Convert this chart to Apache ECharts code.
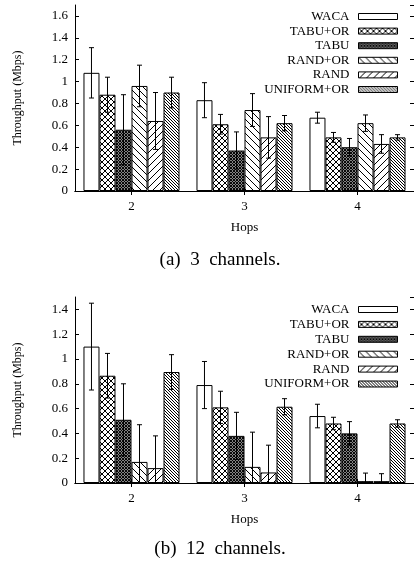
<!DOCTYPE html>
<html>
<head>
<meta charset="utf-8">
<script src="https://cdn.jsdelivr.net/npm/echarts@6.0.0/dist/echarts.min.js"></script>
<style>
html,body{margin:0;padding:0;background:#fff;}
#c{width:414px;height:565px;}
</style>
</head>
<body>
<div id="c"></div>
<script>
// ---- data ----
const hops = ['2', '3', '4'];
const methods = ['WACA', 'TABU+OR', 'TABU', 'RAND+OR', 'RAND', 'UNIFORM+OR'];
const yTicks3 = [0, 0.2, 0.4, 0.6, 0.8, 1, 1.2, 1.4, 1.6];
const yTicks12 = [0, 0.2, 0.4, 0.6, 0.8, 1, 1.2, 1.4];

// (a) 3 channels
const waca3 = [1.08, 0.83, 0.67];
const tabuOr3 = [0.88, 0.61, 0.49];
const tabu3 = [0.56, 0.37, 0.40];
const randOr3 = [0.96, 0.74, 0.62];
const rand3 = [0.64, 0.49, 0.43];
const uniformOr3 = [0.90, 0.62, 0.49];
const waca3Err = [0.23, 0.16, 0.05];
const tabuOr3Err = [0.16, 0.09, 0.045];
const tabu3Err = [0.32, 0.17, 0.08];
const randOr3Err = [0.19, 0.15, 0.075];
const rand3Err = [0.26, 0.19, 0.085];
const uniformOr3Err = [0.14, 0.07, 0.025];

// (b) 12 channels
const waca12 = [1.10, 0.79, 0.54];
const tabuOr12 = [0.865, 0.61, 0.48];
const tabu12 = [0.51, 0.38, 0.40];
const randOr12 = [0.17, 0.13, 0.015];
const rand12 = [0.12, 0.085, 0.015];
const uniformOr12 = [0.895, 0.615, 0.48];
const waca12Err = [0.35, 0.19, 0.095];
const tabuOr12Err = [0.18, 0.13, 0.05];
const tabu12Err = [0.29, 0.19, 0.095];
const randOr12Err = [0.30, 0.28, 0.065];
const rand12Err = [0.26, 0.22, 0.06];
const uniformOr12Err = [0.14, 0.065, 0.03];

// ---- patterns ----
function makePattern(kind) {
  const s = {cross: 6, dense: 3, back: 7, fwd: 7, backDense: 3}[kind] || 4;
  const c = document.createElement('canvas');
  c.width = s; c.height = s;
  const g = c.getContext('2d');
  g.fillStyle = '#fff';
  g.fillRect(0, 0, s, s);
  g.strokeStyle = '#000';
  g.lineWidth = kind === 'dense' ? 1.1 : 1;
  function back() {
    for (let k = -1; k <= 1; k++) { g.beginPath(); g.moveTo(k * s, 0); g.lineTo(k * s + s, s); g.stroke(); }
  }
  function fwd() {
    for (let k = -1; k <= 1; k++) { g.beginPath(); g.moveTo(k * s, s); g.lineTo(k * s + s, 0); g.stroke(); }
  }
  if (kind === 'cross' || kind === 'dense') { back(); fwd(); }
  else if (kind === 'back' || kind === 'backDense') back();
  else if (kind === 'fwd') fwd();
  return {image: c, repeat: 'repeat'};
}
const fills = [
  '#ffffff',
  makePattern('cross'),
  makePattern('dense'),
  makePattern('back'),
  makePattern('fwd'),
  makePattern('backDense')
];

const serif = 'Liberation Serif';
const vals3 = [waca3, tabuOr3, tabu3, randOr3, rand3, uniformOr3];
const errs3 = [waca3Err, tabuOr3Err, tabu3Err, randOr3Err, rand3Err, uniformOr3Err];
const vals12 = [waca12, tabuOr12, tabu12, randOr12, rand12, uniformOr12];
const errs12 = [waca12Err, tabuOr12Err, tabu12Err, randOr12Err, rand12Err, uniformOr12Err];

const GAP = 0.15;
function errData(vals, errs) {
  const out = [];
  vals.forEach((arr, s) => arr.forEach((v, c) => out.push([c, v, errs[s][c], s])));
  return out;
}
function renderErr(params, api) {
  const c = api.value(0), v = api.value(1), e = api.value(2), s = api.value(3);
  const band = api.size([1, 0])[0];
  const bw = band * (1 - GAP) / 6;
  const cx = api.coord([c, v])[0] + (s - 2.5) * bw;
  const hi = v + e, lo = v - e;
  const yHi = api.coord([c, hi])[1];
  const yLo = api.coord([c, Math.max(0, lo)])[1];
  const cap = 2.5;
  const st = {stroke: '#000', lineWidth: 1};
  const children = [
    {type: 'line', shape: {x1: cx, y1: yHi, x2: cx, y2: yLo}, style: st},
    {type: 'line', shape: {x1: cx - cap, y1: yHi, x2: cx + cap, y2: yHi}, style: st}
  ];
  if (lo > 0) children.push({type: 'line', shape: {x1: cx - cap, y1: yLo, x2: cx + cap, y2: yLo}, style: st});
  return {type: 'group', children: children};
}

const grids = [
  {left: 75, top: 5, width: 340, height: 186},
  {left: 75, top: 297, width: 340, height: 186}
];
const xAxes = [], yAxes = [];
[0, 1].forEach(gi => {
  xAxes.push({
    type: 'category', gridIndex: gi, data: hops, position: 'bottom',
    axisLine: {show: true, lineStyle: {color: '#000', width: 1}},
    axisTick: {show: true, inside: true, alignWithLabel: true, length: 4, lineStyle: {color: '#000'}},
    axisLabel: {color: '#000', fontFamily: serif, fontSize: 13, margin: 9},
    name: 'Hops', nameLocation: 'middle', nameGap: 30,
    nameTextStyle: {color: '#000', fontFamily: serif, fontSize: 13}
  });
  xAxes.push({
    type: 'category', gridIndex: gi, data: hops, position: 'top',
    axisLine: {show: true, lineStyle: {color: '#000', width: 1}},
    axisTick: {show: true, inside: true, alignWithLabel: true, length: 4, lineStyle: {color: '#000'}},
    axisLabel: {show: false}
  });
  const ticks = gi === 0 ? yTicks3 : yTicks12;
  const maxV = gi === 0 ? 1.7 : 1.5;
  yAxes.push({
    type: 'value', gridIndex: gi, min: ticks[0], max: maxV, interval: 0.2, position: 'left',
    axisLine: {show: true, lineStyle: {color: '#000', width: 1}},
    axisTick: {show: true, inside: true, length: 4, lineStyle: {color: '#000'}},
    axisLabel: {color: '#000', fontFamily: serif, fontSize: 13, margin: 7, showMaxLabel: false,
      formatter: v => String(parseFloat(v.toFixed(1)))},
    splitLine: {show: false},
    name: 'Throughput (Mbps)', nameLocation: 'middle', nameGap: 51,
    nameTextStyle: {color: '#000', fontFamily: serif, fontSize: 12}
  });
  yAxes.push({
    type: 'value', gridIndex: gi, min: ticks[0], max: maxV, interval: 0.2, position: 'right',
    axisLine: {show: true, lineStyle: {color: '#000', width: 1}},
    axisTick: {show: true, inside: true, length: 4, lineStyle: {color: '#000'}},
    axisLabel: {show: false}, splitLine: {show: false}
  });
});

const series = [];
[[vals3, errs3, 0], [vals12, errs12, 1]].forEach(([vals, errs, gi]) => {
  methods.forEach((m, s) => {
    series.push({
      type: 'bar', name: m, xAxisIndex: gi * 2, yAxisIndex: gi * 2,
      data: vals[s], barGap: '0%', barCategoryGap: (GAP * 100) + '%',
      itemStyle: {color: fills[s], borderColor: '#000', borderWidth: 1},
      emphasis: {disabled: true}, silent: true
    });
  });
  series.push({
    type: 'custom', name: 'err' + gi, xAxisIndex: gi * 2, yAxisIndex: gi * 2,
    data: errData(vals, errs), encode: {x: 0, y: 1}, renderItem: renderErr, z: 5, silent: true
  });
});

const legends = [];
[[16.5, 14.6], [309.5, 14.9]].forEach(([y0, dy]) => {
  methods.forEach((m, i) => {
    legends.push({
      data: [m], right: 16, top: y0 + dy * i - 6.5, orient: 'vertical', align: 'right', padding: 0,
      itemWidth: 39, itemHeight: 6, icon: 'rect', selectedMode: false,
      itemStyle: {borderColor: '#000', borderWidth: 1},
      textStyle: {color: '#000', fontFamily: serif, fontSize: 13, lineHeight: 13, padding: [0, 4, 0, 0]}
    });
  });
});

const chart = echarts.init(document.getElementById('c'), null, {renderer: 'canvas'});
chart.setOption({
  animation: false,
  backgroundColor: '#fff',
  grid: grids,
  xAxis: xAxes,
  yAxis: yAxes,
  legend: legends,
  title: [
    {text: '(a)  3  channels.', left: 220, top: 251, textAlign: 'center', padding: 0,
      textStyle: {color: '#000', fontFamily: serif, fontSize: 19, fontWeight: 'normal'}},
    {text: '(b)  12  channels.', left: 220, top: 540, textAlign: 'center', padding: 0,
      textStyle: {color: '#000', fontFamily: serif, fontSize: 19, fontWeight: 'normal'}}
  ],
  series: series
});
</script>
</body>
</html>
